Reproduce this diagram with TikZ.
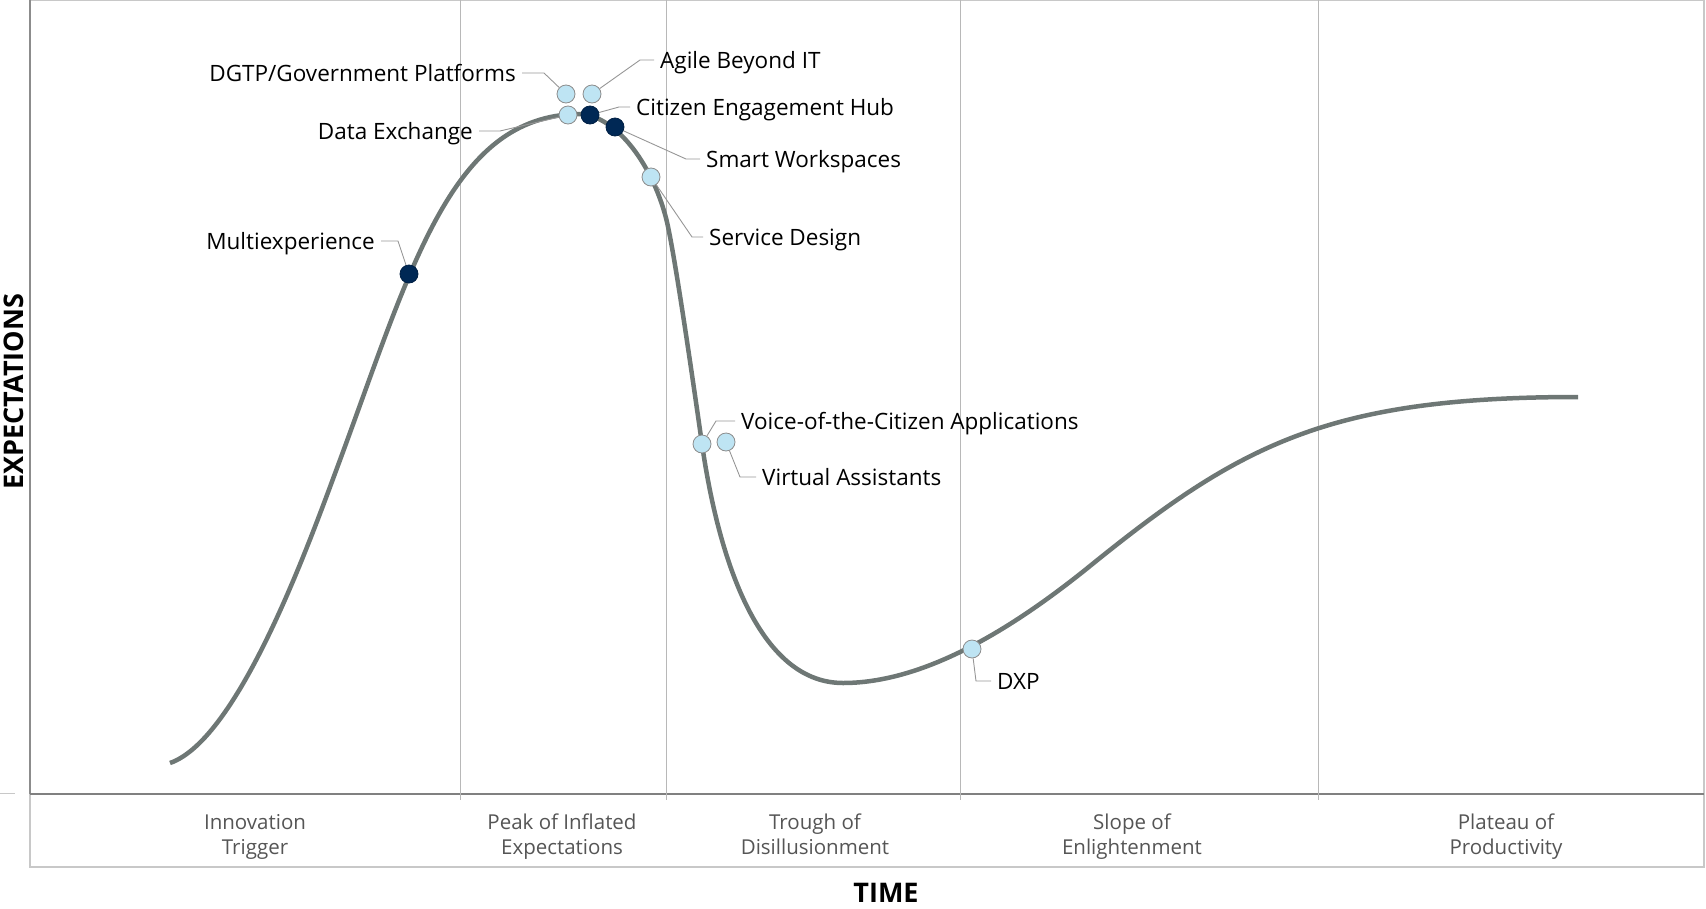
\documentclass[tikz,border=0pt]{standalone}
\usepackage{fontspec}
\setmainfont{Open Sans}

\definecolor{hypegray}{RGB}{110,119,117}
\definecolor{dotlight}{RGB}{190,228,243}
\definecolor{dotdark}{RGB}{0,40,85}
\definecolor{framegray}{RGB}{200,200,200}
\definecolor{leadgray}{RGB}{150,150,150}
\definecolor{phasegray}{RGB}{85,85,85}

\begin{document}
\begin{tikzpicture}[x=1pt, y=-1pt,
  techdot/.style={circle, draw=black!45, fill=dotlight, minimum size=18pt, inner sep=0pt, line width=0.8pt},
  techdark/.style={techdot, fill=dotdark, draw=dotdark!80!black},
  lbl/.style={inner xsep=6pt, inner ysep=0pt, text height=16pt, text depth=0pt, font=\fontsize{22.5}{26}\selectfont},
  lead/.style={draw=leadgray, line width=0.9pt},
  phase/.style={align=center, text=phasegray, font=\fontsize{20.5}{25}\selectfont},
  axistitle/.style={inner sep=0pt, font=\fontsize{27}{31}\selectfont\bfseries},
  vline/.style={draw=black!28, line width=1pt}]
  \useasboundingbox (0,0) rectangle (1706,908);

  % frame and phases
  \draw[framegray, line width=1.5pt] (30,0) rectangle (1704,867);
  \draw[black!45, line width=2pt] (30,0) -- (30,794);
  \draw[black!50, line width=1.5pt] (30,794) -- (1704,794);
  \draw[framegray, line width=1pt] (0,793) -- (15,793);
  \foreach \x in {460,666,960,1318}
    \draw[vline] (\x,0) -- (\x,800);

  \node[phase] (innov) at (255,838) {Innovation\\Trigger\strut};
  \node[phase] (peak) at (562,838) {Peak of Inflated\\Expectations\strut};
  \node[phase] (trough) at (815,838) {Trough of\\Disillusionment\strut};
  \node[phase] (slope) at (1132,838) {Slope of\\Enlightenment\strut};
  \node[phase] (plateau) at (1506,838) {Plateau of\\Productivity\strut};
  \node[axistitle] (time) at (886,893) {TIME};
  \node[axistitle, rotate=90] (expect) at (14,392) {EXPECTATIONS};

  % hype curve
  \draw[hypegray, line width=4.5pt] (170,763)
    .. controls (240,738.5) and (311,538) .. (340,460)
    .. controls (412,265) and (452,116) .. (578,114)
    .. controls (614,114) and (651,161) .. (666,218)
    .. controls (674,248.4) and (694,388) .. (702,444)
    .. controls (716,542) and (753,683) .. (843,683)
    .. controls (923,683) and (1010,630.8) .. (1090,566)
    .. controls (1240,444.5) and (1328,397) .. (1578,397);

  % technologies
  \node[techdot] (dgtp) at (566,94) {};
  \node[techdot] (agile) at (592,94) {};
  \node[techdot] (dex) at (568,115) {};
  \node[techdark] (ceh) at (590,115) {};
  \node[techdark] (smart) at (615,127) {};
  \node[techdot] (sdesign) at (651,177) {};
  \node[techdark] (multi) at (409,274) {};
  \node[techdot] (voice) at (702,444) {};
  \node[techdot] (virtual) at (726,442) {};
  \node[techdot] (dxp) at (972,649) {};

  \node[lbl, anchor=east] (dgtpl) at (522,73) {DGTP/Government Platforms};
  \node[lbl, anchor=west] (agilel) at (654,60) {Agile Beyond IT};
  \node[lbl, anchor=west] (cehl) at (630,107) {Citizen Engagement Hub};
  \node[lbl, anchor=east] (dexl) at (479,131) {Data Exchange};
  \node[lbl, anchor=west] (smartl) at (700,159) {Smart Workspaces};
  \node[lbl, anchor=west] (sdesignl) at (703,237) {Service Design};
  \node[lbl, anchor=east] (multil) at (381,241) {Multiexperience};
  \node[lbl, anchor=west] (voicel) at (735,421) {Voice-of-the-Citizen Applications};
  \node[lbl, anchor=west] (virtuall) at (756,477) {Virtual Assistants};
  \node[lbl, anchor=west] (dxpl) at (991,681) {DXP};

  \draw[lead] (dgtp) -- (544,73) -- (dgtpl.east);
  \draw[lead] (agile) -- (640,60) -- (agilel.west);
  \draw[lead] (ceh) -- (619,107) -- (cehl.west);
  \draw[lead] (dex) -- (500,131) -- (dexl.east);
  \draw[lead] (smart) -- (686,159) -- (smartl.west);
  \draw[lead] (sdesign) -- (692,237) -- (sdesignl.west);
  \draw[lead] (multi) -- (398,241) -- (multil.east);
  \draw[lead] (voice) -- (716,421) -- (voicel.west);
  \draw[lead] (virtual) -- (740,477) -- (virtuall.west);
  \draw[lead] (dxp) -- (976,681) -- (dxpl.west);
\end{tikzpicture}
\end{document}
